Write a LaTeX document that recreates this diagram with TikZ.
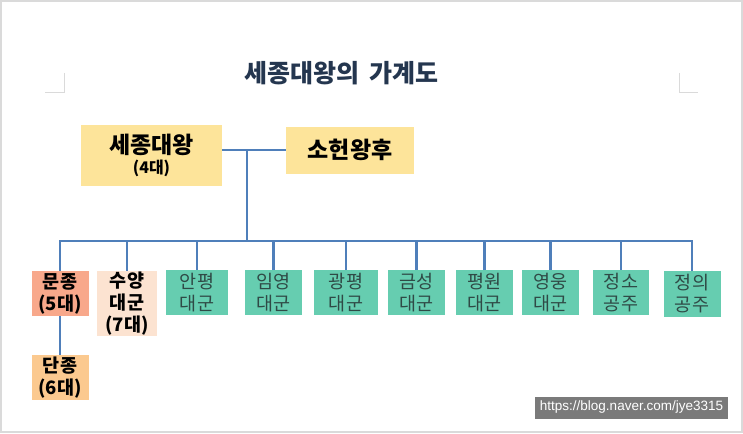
\documentclass[tikz,border=0pt]{standalone}
\usepackage{fontspec}
\setmainfont{Noto Sans CJK KR}
\newfontfamily\wmfont{Liberation Sans}
\definecolor{lineblue}{HTML}{4F7FBA}
\definecolor{ygold}{HTML}{FDE49A}
\definecolor{salmon}{HTML}{F8A88B}
\definecolor{peach}{HTML}{FCE3D1}
\definecolor{lorange}{HTML}{FBC98F}
\definecolor{teal}{HTML}{66CDB0}
\definecolor{tealtext}{HTML}{2F4A46}
\definecolor{titlecol}{HTML}{24364F}
\definecolor{framegray}{HTML}{DADADA}
\definecolor{wmgray}{HTML}{7A7A7A}
\begin{document}
\begin{tikzpicture}[x=1pt,y=-1pt,
  conn/.style={draw=lineblue, line width=2.9pt},
  box/.style={inner sep=0pt, align=center},
  kid/.style={box, minimum width=57, minimum height=45, font=\fontsize{18.5}{22}\selectfont},
  tealkid/.style={kid, fill=teal, text=tealtext},
  boldkid/.style={kid, font=\fontsize{18.5}{22}\selectfont\bfseries}]
\useasboundingbox (0,0) rectangle (743,433);
\fill[white] (0,0) rectangle (743,433);
\draw[framegray, line width=1.2pt] (1,1) rectangle (742,432);
% corner marks
\draw[framegray, line width=1pt] (64.5,73) -- (64.5,92.5) -- (45,92.5);
\draw[framegray, line width=1pt] (679.5,73) -- (679.5,92.5) -- (698,92.5);
% title
\node[box, text=titlecol, font=\fontsize{25}{28}\selectfont\bfseries] (title) at (341.5,73) {세종대왕의\hspace{0.4em}가계도};
% parents
\node[box, fill=ygold, minimum width=141, minimum height=61] (sejong) at (151.5,155.5)
  {{\fontsize{23}{24}\selectfont\bfseries 세종대왕}\\[4pt]{\fontsize{16}{17}\selectfont\bfseries (4대)}};
\node[box, fill=ygold, minimum width=128, minimum height=47, font=\fontsize{23}{24}\selectfont\bfseries] (soheon) at (350,150) {소헌왕후};
\coordinate (m) at (247,150);
\coordinate (bus) at (0,241);
% children
\node[boldkid, fill=salmon] (munjong) at (60,293.5) {문종\\(5대)};
\node[boldkid, fill=peach, minimum width=60, minimum height=65] (suyang) at (127,303.5) {수양\\대군\\(7대)};
\node[tealkid, minimum width=62] (anpyeong) at (197,292.5) {안평\\대군};
\node[tealkid] (imyeong) at (273.5,292.5) {임영\\대군};
\node[tealkid, minimum width=64] (gwangpyeong) at (346,292.5) {광평\\대군};
\node[tealkid] (geumseong) at (416.5,292.5) {금성\\대군};
\node[tealkid] (pyeongwon) at (484.5,292.5) {평원\\대군};
\node[tealkid] (yeongeung) at (550.5,292.5) {영웅\\대군};
\node[tealkid, minimum width=56] (jeongso) at (621,292.5) {정소\\공주};
\node[tealkid, minimum height=46] (jeongui) at (692,294) {정의\\공주};
\node[boldkid, fill=lorange] (danjong) at (60,377.5) {단종\\(6대)};
% connectors
\draw[conn] (sejong.east |- m) -- (soheon.west |- m);
\draw[conn] (m) -- (m |- bus);
\draw[conn, line cap=rect] (munjong.north |- bus) -- (jeongui.north |- bus);
\foreach \k in {munjong,suyang,anpyeong,imyeong,gwangpyeong,geumseong,pyeongwon,yeongeung,jeongso,jeongui}
  \draw[conn] (\k.north |- bus) -- (\k.north);
\draw[conn] (munjong.south) -- (danjong.north);
% watermark
\node[box, fill=wmgray, text=white, minimum width=193, minimum height=22, font=\wmfont\fontsize{13.5}{15}\selectfont] (wm) at (631.5,407.5) {https://blog.naver.com/jye3315};
\end{tikzpicture}
\end{document}
